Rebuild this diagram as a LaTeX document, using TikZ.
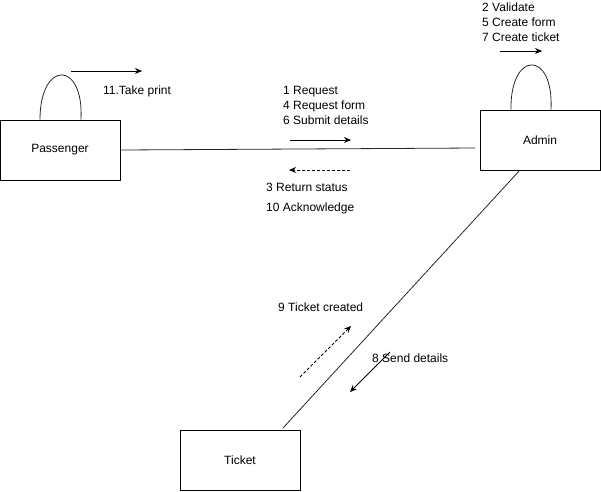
\documentclass[tikz,border=0pt]{standalone}
\usepackage{fontspec}
\setmainfont{Liberation Sans}
\usetikzlibrary{arrows.meta}
\begin{document}
\begin{tikzpicture}[x=1pt,y=-1pt,
  box/.style={draw,thick,minimum width=120pt,minimum height=60pt,inner sep=0pt,font=\fontsize{12}{14}\selectfont},
  lbl/.style={anchor=west,inner sep=0pt,font=\fontsize{12}{14}\selectfont},
  msg/.style={-{Stealth[length=7pt,width=6pt]},thick},
  dmsg/.style={-{Stealth[length=7pt,width=6pt]},thick,dash pattern=on 3pt off 2pt},
  link/.style={thick,draw=black!85}]
\useasboundingbox (0,0) rectangle (601,491);
\node[box] (pass) at (60,150) {Passenger};
\node[box] (admin) at (540,140) {Admin};
\node[box] (ticket) at (240,460) {Ticket};
% self loops
\draw[link] ([xshift=-20pt]pass.north) .. controls (40,60) and (84,60) .. ([xshift=21pt]pass.north);
\draw[link] ([xshift=-29pt]admin.north) .. controls (510,50) and (554,50) .. ([xshift=11pt]admin.north);
% links
\coordinate (aw) at (475,148);
\draw[link] (pass.east) -- (aw);
\coordinate (tt) at (283,428);
\coordinate (ab) at (520,170);
\draw[link] (tt) -- (ab);
% passenger self message
\coordinate (p1) at (71,71); \coordinate (p2) at (142,71);
\draw[msg] (p1) -- (p2);
\node[lbl] (l11) at (103,91) {11.Take print};
% admin self message
\coordinate (a1) at (500,51); \coordinate (a2) at (542,51);
\draw[msg] (a1) -- (a2);
\node[lbl] (l2) at (482,7) {2 Validate};
\node[lbl] (l5) at (482,22) {5 Create form};
\node[lbl] (l7) at (482,37) {7 Create ticket};
% request messages
\node[lbl] (l1) at (283,92) {1 Request};
\node[lbl] (l4) at (283,106) {4 Request form};
\node[lbl] (l6) at (283,120) {6 Submit details};
\coordinate (r1) at (290,140); \coordinate (r2) at (351,140);
\draw[msg] (r1) -- (r2);
\coordinate (s1) at (350,170); \coordinate (s2) at (289,170);
\draw[dmsg] (s1) -- (s2);
\node[lbl] (l3) at (266,187) {3 Return status};
\node[lbl] (l10) at (266,208) {10 Acknowledge};
% ticket messages
\coordinate (t1) at (300,377); \coordinate (t2) at (351,326);
\draw[dmsg] (t1) -- (t2);
\node[lbl] (l9) at (278,307) {9 Ticket created};
\coordinate (d1) at (390,352); \coordinate (d2) at (350,392);
\draw[msg] (d1) -- (d2);
\node[lbl] (l8) at (372,358) {8 Send details};
\end{tikzpicture}
\end{document}
